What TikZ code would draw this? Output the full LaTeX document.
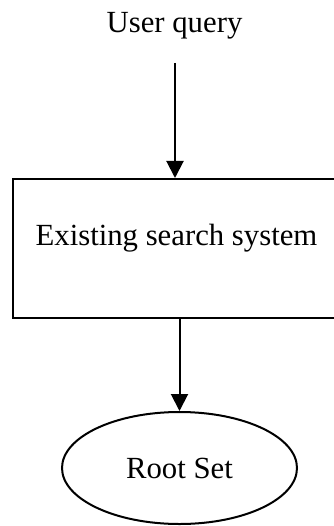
\documentclass[tikz,border=0pt]{standalone}
\usepackage{fontspec}
\setmainfont{Liberation Serif}
\usetikzlibrary{arrows.meta,positioning,shapes.geometric}
\tikzset{
    flow/.style={-{Triangle[width=6.8pt,length=6.8pt]}, line width=0.8pt},
}
\begin{document}
\begin{tikzpicture}[x=0.4pt,y=-0.4pt,font=\fontsize{12.3}{14}\selectfont]
        \useasboundingbox[fill=white] (0,0) rectangle (333,526);
        \node[anchor=base] (query) at (174.5,33) {User query};
        \coordinate (start) at (175,63);
        % box runs past the right edge of the page
        \node[
            draw,
            line width=0.8pt,
            minimum width=137.6pt,
            minimum height=55.6pt,
            text height=8pt,
            text depth=10.8pt,
            inner sep=0pt
        ] (system) at (185,248.5) {\hspace*{-3.4pt}Existing search system\hspace*{3.4pt}};
        \node[
            ellipse,
            draw,
            line width=0.8pt,
            minimum width=94pt,
            minimum height=44.8pt,
            inner sep=0pt
        ] (root) at (179.5,468) {Root Set};
        \draw[flow] (start) -- (start |- system.north);
        \draw[flow] (system.south -| root.north) -- (root.north);
    \end{tikzpicture}
\end{document}
